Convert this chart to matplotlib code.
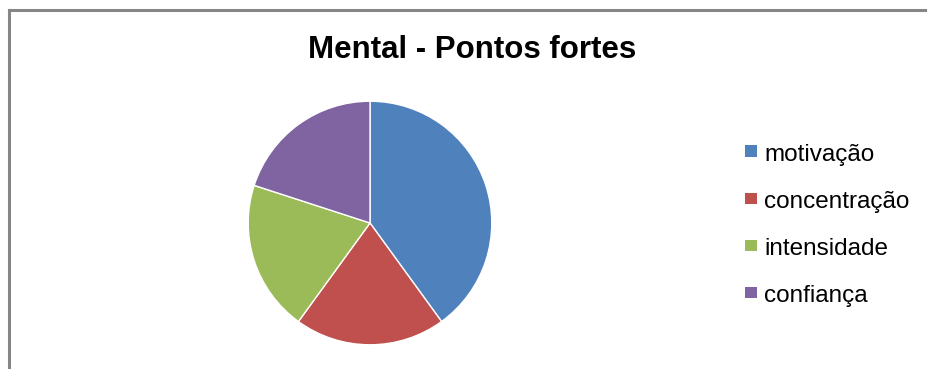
import matplotlib
matplotlib.use("Agg")
import matplotlib.pyplot as plt
from matplotlib.patches import Rectangle
from matplotlib.lines import Line2D

categories = ["motivação", "concentração", "intensidade", "confiança"]
values = [2, 1, 1, 1]
colors = ["#4F81BD", "#C0504D", "#9BBB59", "#8064A2"]
title = "Mental - Pontos fortes"

W, H = 927, 369
fig = plt.figure(figsize=(W/100, H/100), dpi=100)
fig.patch.set_facecolor("white")

# frame lines (left and top)
fig.add_artist(Line2D([8.5/W, 8.5/W], [0, 1 - 9.5/H], transform=fig.transFigure, color="#868686", lw=2.2))
fig.add_artist(Line2D([8.5/W, 926/W], [1 - 9.5/H, 1 - 9.5/H], transform=fig.transFigure, color="#868686", lw=2.2))

cx, cy, r = 370, 223, 123
ax = fig.add_axes([(cx - r)/W, (H - cy - r)/H, 2*r/W, 2*r/H])
ax.pie(values, colors=colors, startangle=90, counterclock=False, radius=1,
       wedgeprops=dict(edgecolor="white", linewidth=1.0))
ax.set_xlim(-1.01, 1.01)
ax.set_ylim(-1.01, 1.01)
ax.set_aspect("equal")
ax.axis("off")

fig.text(472.5/W, 1 - 50/H, title, ha="center", va="center",
         fontsize=22.5, fontweight="bold", family=["Liberation Sans", "DejaVu Sans"])

# legend, drawn item by item
row_y = 151
spacing = 47.3
for i, (lab, col) in enumerate(zip(categories, colors)):
    y = row_y + i * spacing
    fig.add_artist(Rectangle((745/W, 1 - (y + 5.5)/H), 11.5/W, 11/H,
                             transform=fig.transFigure, facecolor=col, edgecolor="none"))
    fig.text(764/W, 1 - (y + 1)/H, lab, ha="left", va="center_baseline",
             fontsize=17.5, family=["Liberation Sans", "DejaVu Sans"])

fig.savefig("out.png", dpi=100, facecolor="white")
